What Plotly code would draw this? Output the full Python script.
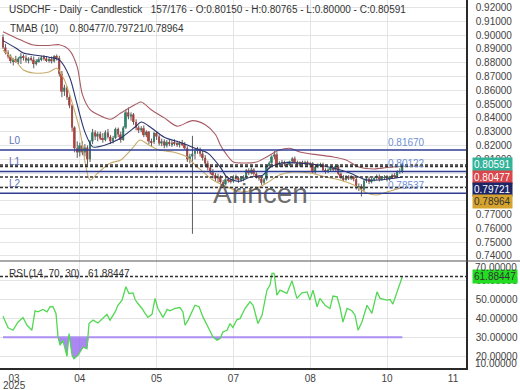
import plotly.graph_objects as go

FONT = "Liberation Sans, Arial, sans-serif"

# ---------------- data ----------------
symbol_title = "USDCHF - Daily - Candlestick"
total_bars = 176

opens = [.8985,.8910,.8872,.8845,.8812,.8825,.8805,.8830,.8845,.8835,
         .8815,.8830,.8822,.8790,.8812,.8825,.8838,.8830,.8818,.8826,
         .8810,.8848,.8835,.8720,.8590,.8620,.8550,.8490,.8330,.8180,
         .8150,.8200,.8150,.8185,.8100,.8230,.8295,.8265,.8285,.8250,
         .8240,.8295,.8262,.8230,.8255,.8320,.8280,.8240,.8330,.8440,
         .8410,.8425,.8370,.8330,.8310,.8325,.8275,.8300,.8230,.8225,
         .8290,.8265,.8215,.8230,.8200,.8225,.8210,.8220,.8215,.8205,
         .8220,.8210,.8180,.8100,.8120,.8140,.8160,.8175,.8140,.8110,
         .8070,.8040,.8005,.7985,.7960,.7975,.7935,.7920,.7955,.7945,
         .7940,.7970,.7960,.7955,.7960,.7970,.8020,.8000,.8025,.7995,
         .7975,.7960,.7930,.7955,.8050,.8075,.8120,.8135,.8060,.8075,
         .8080,.8065,.8060,.8085,.8105,.8080,.8055,.8080,.8070,.8080,
         .8065,.8070,.8005,.8045,.8060,.8065,.8020,.8010,.8025,.8030,
         .8025,.8050,.7995,.7965,.7950,.7975,.7960,.7975,.7955,.7895,
         .7905,.7880,.7945,.7960,.7935,.7955,.7965,.7975,.7955,.7965,
         .7970,.7955,.7975,.7985,.7975,.8010,.80150]
highs = [.9005,.8935,.8890,.8860,.8835,.8850,.8840,.8870,.8860,.8855,
         .8840,.8850,.8845,.8825,.8840,.8850,.8855,.8845,.8840,.8845,
         .8855,.8860,.8850,.8740,.8640,.8630,.8570,.8500,.8340,.8230,
         .8220,.8230,.8210,.8200,.8240,.8320,.8310,.8300,.8300,.8290,
         .8310,.8320,.8275,.8270,.8330,.8330,.8300,.8340,.8460,.8475,
         .8440,.8435,.8390,.8345,.8340,.8345,.8310,.8305,.8250,.8300,
         .8300,.8280,.8250,.8245,.8240,.8240,.8235,.8245,.8235,.8230,
         .8240,.8225,.8195,.8140,.8270,.8175,.8190,.8185,.8160,.8130,
         .8090,.8060,.8030,.8000,.7995,.7985,.7950,.7965,.7970,.7960,
         .7985,.7990,.7975,.7975,.7985,.8030,.8035,.8040,.8035,.8005,
         .7985,.7970,.7965,.8060,.8085,.8130,.8160,.8150,.8085,.8095,
         .8090,.8085,.8090,.8115,.8120,.8090,.8085,.8090,.8090,.8090,
         .8080,.8080,.8055,.8070,.8075,.8075,.8035,.8035,.8040,.8045,
         .8060,.8060,.8005,.7985,.7985,.7985,.7985,.7980,.7965,.7925,
         .7920,.7955,.7975,.7975,.7965,.7975,.7990,.7990,.7975,.7985,
         .7985,.7980,.7995,.8000,.8020,.8035,.80765]
lows = [.8900,.8860,.8830,.8795,.8780,.8800,.8790,.8790,.8815,.8800,
        .8795,.8810,.8760,.8780,.8800,.8810,.8815,.8805,.8800,.8795,
        .8800,.8815,.8700,.8550,.8560,.8530,.8470,.8300,.8150,.8110,
        .8120,.8130,.8120,.8060,.8080,.8210,.8240,.8230,.8240,.8220,
        .8230,.8250,.8210,.8215,.8245,.8260,.8220,.8235,.8320,.8390,
        .8380,.8350,.8310,.8290,.8295,.8260,.8260,.8210,.8190,.8210,
        .8240,.8200,.8195,.8180,.8185,.8195,.8190,.8200,.8190,.8185,
        .8195,.8170,.8080,.8070,.7560,.8100,.8140,.8120,.8090,.8050,
        .8020,.7990,.7960,.7940,.7930,.7920,.7895,.7910,.7930,.7925,
        .7930,.7945,.7930,.7935,.7940,.7960,.7985,.7990,.7980,.7960,
        .7945,.7915,.7920,.7945,.8030,.8060,.8100,.8040,.8045,.8055,
        .8050,.8045,.8050,.8070,.8070,.8045,.8045,.8055,.8060,.8055,
        .8040,.7995,.7995,.8035,.8045,.8010,.7995,.8000,.8015,.8010,
        .8015,.7985,.7955,.7940,.7945,.7950,.7950,.7940,.7880,.7870,
        .7830,.7870,.7930,.7920,.7925,.7940,.7950,.7940,.7945,.7950,
        .7940,.7945,.7960,.7965,.7970,.7995,.80000]
closes = [.8910,.8872,.8845,.8812,.8825,.8805,.8830,.8845,.8835,.8815,
          .8830,.8822,.8790,.8812,.8825,.8838,.8830,.8818,.8826,.8810,
          .8848,.8835,.8720,.8590,.8620,.8550,.8490,.8330,.8180,.8150,
          .8200,.8150,.8185,.8100,.8230,.8295,.8265,.8285,.8250,.8240,
          .8295,.8262,.8230,.8255,.8320,.8280,.8240,.8330,.8440,.8410,
          .8425,.8370,.8330,.8310,.8325,.8275,.8300,.8230,.8225,.8290,
          .8265,.8215,.8230,.8200,.8225,.8210,.8220,.8215,.8205,.8220,
          .8210,.8180,.8100,.8120,.8140,.8160,.8175,.8140,.8110,.8070,
          .8040,.8005,.7985,.7960,.7975,.7935,.7920,.7955,.7945,.7940,
          .7970,.7960,.7955,.7960,.7970,.8020,.8000,.8025,.7995,.7975,
          .7960,.7930,.7955,.8050,.8075,.8120,.8135,.8060,.8075,.8080,
          .8065,.8060,.8085,.8105,.8080,.8055,.8080,.8070,.8080,.8065,
          .8070,.8005,.8045,.8060,.8065,.8020,.8010,.8025,.8030,.8025,
          .8050,.7995,.7965,.7950,.7975,.7960,.7975,.7955,.7895,.7905,
          .7880,.7945,.7960,.7935,.7955,.7965,.7975,.7955,.7965,.7970,
          .7955,.7975,.7985,.7975,.8010,.8015,.80591]

# TMAB(10) bands, read at bar positions
upper_x = [0, 7, 12, 18, 22, 26, 29, 31, 34, 37, 42, 46, 52, 54, 58, 63, 68, 74, 79, 83, 85,
           87.5, 90, 94, 99, 103, 108, 112, 116, 123, 129, 134, 139, 145, 150, 156]
upper_v = [0.9025, 0.8964, 0.8928, 0.8925, 0.8930, 0.8890, 0.8770, 0.8570, 0.8460, 0.8425, 0.8390,
           0.8435, 0.8500, 0.8515, 0.8457, 0.8400, 0.8340, 0.8380, 0.8350, 0.8280, 0.8200,
           0.8130, 0.8080, 0.8073, 0.8080, 0.8117, 0.8167, 0.8180, 0.8153, 0.8132, 0.8117,
           0.8095, 0.8044, 0.8030, 0.8040, 0.80477]
mid_x = [0, 5, 8, 12, 18, 22, 26, 28.5, 32, 35, 37, 43, 46.5, 51.6, 54, 58, 63, 70, 75, 80, 85,
         87.5, 92, 96.5, 101.6, 104, 109, 115, 122.6, 129, 135.5, 142, 147, 156]
mid_v = [0.8960, 0.8906, 0.8870, 0.8856, 0.8840, 0.8820, 0.8696, 0.8530, 0.8297, 0.8190, 0.8190,
         0.8225, 0.8260, 0.8334, 0.8370, 0.8327, 0.8260, 0.8218, 0.8180, 0.8145, 0.8040,
         0.7970, 0.7940, 0.7970, 0.7986, 0.8037, 0.8073, 0.8073, 0.8060, 0.8037, 0.8000,
         0.7950, 0.7950, 0.79721]
lower_x = [0, 5, 8, 12, 18, 21, 24, 27.5, 30, 34, 37, 42, 46, 51, 53.5, 57, 61, 66.4, 71.9, 75.8,
           77.5, 82, 87.5, 92.6, 97.7, 103, 108, 113, 120, 126.6, 131.6, 137, 142, 146, 150, 156]
lower_v = [0.8890, 0.8810, 0.8747, 0.8725, 0.8733, 0.8760, 0.8675, 0.8480, 0.8312, 0.7950, 0.8000,
           0.8073, 0.8095, 0.8190, 0.8240, 0.8203, 0.8167, 0.8153, 0.8117, 0.8044,
           0.8020, 0.7950, 0.7900, 0.7863, 0.7877, 0.7928, 0.7986, 0.8008, 0.8000, 0.7970,
           0.7950, 0.7914, 0.7856, 0.7841, 0.7863, 0.78964]

# RSI(14), read at bar positions
rsi_x = [0, 2, 3.9, 5.9, 7.8, 9.4, 11.3, 12.5, 13.7, 15.6, 17.2, 18.4, 19.5, 20.7, 21.5, 22.3,
         23.4, 25, 25.8, 27, 27.7, 29.3, 31.3, 32.8, 33.6, 35.2, 37.1, 39.1, 40.6, 41.8, 43.8,
         44.9, 46.5, 48, 49.2, 50.8, 51.6, 52.7, 54.3, 55.5, 56.6, 58.2, 59.4, 60.5, 62.5, 64.1,
         65.2, 67.2, 69.1, 70.3, 71.1, 72.3, 73.8, 75, 76.6, 78.1, 80.1, 82, 83.6, 84.8, 85.9,
         87.5, 88.7, 89.8, 91.4, 92.6, 94.5, 96.5, 97.7, 99.6, 101.2, 103.1, 104.3, 105.1, 105.9,
         107, 108.2, 110.9, 112.9, 114.8, 116.8, 118.8, 119.9, 121.1, 122.7, 123.8, 125.8, 127.7,
         128.9, 130.5, 131.6, 132.8, 134.4, 136.3, 137.5, 138.7, 140.2, 142.2, 144.1, 146.1,
         147.3, 150, 151.2, 152.3, 156]
rsi_v = [41, 35, 33.7, 38, 40.4, 36.3, 33.7, 43.9, 43.3, 44.6, 43.3, 46, 46, 42.5, 30.2, 25.8,
         28.4, 20, 32, 20.5, 18.8, 20.5, 24.9, 24, 37.2, 39, 37.5, 40.4, 42, 39, 43.3,
         46.8, 49.5, 56.5, 53, 53.3, 49.8, 47.7, 45.1, 42.5, 40.4, 42, 50.4, 45.1, 40.4, 44.6,
         43.9, 45.1, 45.6, 43.3, 36.3, 39, 43.3, 46.8, 46, 40.7, 35.4, 30.2, 28.4, 29.3, 32.8,
         33.7, 37.2, 35.1, 39.3, 39.8, 45.1, 48.6, 46.8, 37.2, 41.6, 54.7, 57.4, 63.5, 63.5,
         52.1, 54.7, 53, 59.6, 50.4, 53.3, 53.8, 49.5, 54.7, 46, 50.4, 46.8, 45.1,
         51.6, 51.2, 46, 38, 45.1, 43.9, 41.6, 33.7, 38, 46.8, 42.5, 53.8,
         50.4, 49.5, 49.8, 47.4, 61.88447]
rsi_oversold = 30

levels = [0.81670, 0.80122, 0.78537]
level_names = ["L0", "L1", "L2"]

x_tick_vals = [4.3, 30, 60, 90, 120, 150, 175.8]
x_tick_text = ["03", "04", "05", "07", "08", "10", "11"]
first_year = "2025"
x_grid_vals = [30, 60, 90, 120, 150]

# ---------------- styling ----------------
UP, DOWN, WICK = "#2a9f7e", "#e2433f", "#5c5c5c"
C_UPPER, C_MID, C_LOWER = "#a85a64", "#2a3470", "#c8ab6a"
GRID = "#e4e4e4"
AXIS = "#2a2a2a"
MAIN_BOTTOM = 0.2908  # paper fraction of main panel bottom

n = len(closes)
idx = list(range(n))

fig = go.Figure()

# wicks
wx, wy = [], []
for i in idx:
    wx += [i, i, None]
    wy += [lows[i], highs[i], None]
fig.add_trace(go.Scatter(x=wx, y=wy, mode="lines", line=dict(color=WICK, width=1),
                         xaxis="x", yaxis="y", hoverinfo="skip"))

# bodies
up_i = [i for i in idx if closes[i] >= opens[i]]
dn_i = [i for i in idx if closes[i] < opens[i]]
for ids, col in ((up_i, UP), (dn_i, DOWN)):
    fig.add_trace(go.Bar(
        x=ids,
        y=[max(abs(closes[i] - opens[i]), 0.00025) for i in ids],
        base=[min(opens[i], closes[i]) for i in ids],
        width=0.75, marker=dict(color=col, line=dict(width=0)),
        xaxis="x", yaxis="y", hoverinfo="skip"))

# TMAB bands
for bx, bv, col in ((upper_x, upper_v, C_UPPER), (mid_x, mid_v, C_MID), (lower_x, lower_v, C_LOWER)):
    fig.add_trace(go.Scatter(x=bx, y=bv, mode="lines",
                             line=dict(color=col, width=1.1, shape="spline", smoothing=0.8),
                             xaxis="x", yaxis="y", hoverinfo="skip"))

# RSI panel
fig.add_trace(go.Scatter(x=rsi_x, y=[rsi_oversold] * len(rsi_x), mode="lines",
                         line=dict(color="#ad8ff2", width=2), xaxis="x2", yaxis="y2", hoverinfo="skip"))
fig.add_trace(go.Scatter(x=rsi_x, y=[min(v, rsi_oversold) for v in rsi_v], mode="lines",
                         line=dict(width=0), fill="tonexty", fillcolor="rgba(150,105,240,0.8)",
                         xaxis="x2", yaxis="y2", hoverinfo="skip"))
fig.add_trace(go.Scatter(x=rsi_x, y=rsi_v, mode="lines", line=dict(color="#52d852", width=1.3),
                         xaxis="x2", yaxis="y2", hoverinfo="skip"))

shapes = []
# support / resistance levels
for v in levels:
    shapes.append(dict(type="line", xref="x domain", x0=0, x1=1, yref="y", y0=v, y1=v,
                       line=dict(color="#2f3c94", width=1.5)))
# dashed current-value lines
for v in (closes[-1], upper_v[-1], mid_v[-1], lower_v[-1]):
    shapes.append(dict(type="line", xref="x domain", x0=0, x1=1, yref="y", y0=v, y1=v,
                       line=dict(color="#333333", width=1.5, dash="3px,2px")))
shapes.append(dict(type="line", xref="x2 domain", x0=0, x1=1, yref="y2", y0=rsi_v[-1], y1=rsi_v[-1],
                   line=dict(color="#333333", width=1.5, dash="3px,2px")))
# panel separator
shapes.append(dict(type="line", xref="paper", x0=0, x1=520 / 466, yref="paper",
                   y0=MAIN_BOTTOM, y1=MAIN_BOTTOM, line=dict(color="#555555", width=1.2)))

annotations = []
hdr = (f"{symbol_title}\u00a0\u00a0\u00a0{n}/{total_bars} - O:{opens[-1]:.5f} - H:{highs[-1]:.5f}"
       f" - L:{lows[-1]:.5f} - C:{closes[-1]:.5f}")
annotations.append(dict(text=hdr, xref="paper", yref="paper", x=0.016, y=1 - 9 / 368,
                        xanchor="left", yanchor="middle", showarrow=False,
                        font=dict(size=10, color="#333333", family=FONT)))
tm = f"TMAB (10)\u00a0\u00a0\u00a0\u00a0{upper_v[-1]:.5f}/{mid_v[-1]:.5f}/{lower_v[-1]:.5f}"
annotations.append(dict(text=tm, xref="paper", yref="paper", x=0.018, y=1 - 29 / 368,
                        xanchor="left", yanchor="middle", showarrow=False,
                        font=dict(size=10, color="#333333", family=FONT)))
annotations.append(dict(text=f"RSI (14, 70, 30)\u00a0\u00a0\u00a0{rsi_v[-1]:.5f}", xref="paper", yref="paper",
                        x=0.016, y=1 - 273 / 368, xanchor="left", yanchor="middle", showarrow=False,
                        font=dict(size=10, color="#333333", family=FONT)))
# level labels
for name, v in zip(level_names, levels):
    annotations.append(dict(text=name, xref="paper", yref="y", x=0.014, y=v, xanchor="left",
                            yanchor="bottom", yshift=2, showarrow=False,
                            font=dict(size=10, color="#6272b8", family=FONT)))
    annotations.append(dict(text=f"{v:.5f}", xref="paper", yref="y", x=427 / 466, y=v, xanchor="right",
                            yanchor="bottom", yshift=0, showarrow=False,
                            font=dict(size=10, color="#6f8fd6", family=FONT)))
# watermark
annotations.append(dict(text="Arincen", xref="paper", yref="paper", x=260 / 466, y=1 - 193 / 368,
                        xanchor="center", yanchor="middle", showarrow=False,
                        font=dict(size=28, color="rgba(70,70,70,0.8)", family=FONT)))
# value boxes on the price axis
boxes = [(closes[-1], "#33b39a", "white", 0), (upper_v[-1], "#d9464b", "white", -11),
         (mid_v[-1], "#1c2566", "white", -13), (lower_v[-1], "#d6a32e", "#333333", -14.5)]
for v, bg, fc, sh in boxes:
    annotations.append(dict(text=f"{v:.5f}", xref="paper", yref="y", x=1, y=v, xanchor="left",
                            yanchor="middle", xshift=6, yshift=sh, showarrow=False, bgcolor=bg,
                            borderpad=1, font=dict(size=10, color=fc, family=FONT)))
annotations.append(dict(text=f"{rsi_v[-1]:.5f}", xref="paper", yref="y2", x=1, y=rsi_v[-1],
                        xanchor="left", yanchor="middle", xshift=6, showarrow=False, bgcolor="#22dd22",
                        borderpad=1, font=dict(size=10, color="#333333", family=FONT)))
# clamped edge labels of the RSI axis
annotations.append(dict(text="70.00000", xref="paper", yref="paper", x=1, y=MAIN_BOTTOM,
                        xanchor="left", yanchor="top", xshift=7, yshift=1, showarrow=False,
                        font=dict(size=10, color="#444444", family=FONT)))
annotations.append(dict(text="10.00000", xref="paper", yref="paper", x=1, y=0,
                        xanchor="left", yanchor="bottom", xshift=7, yshift=-3, showarrow=False,
                        font=dict(size=10, color="#444444", family=FONT)))
# year under the first month label
annotations.append(dict(text=first_year, xref="x2", yref="paper", x=x_tick_vals[0], y=0,
                        xanchor="center", yanchor="middle", yshift=-17, showarrow=False,
                        font=dict(size=10, color="#444444", family=FONT)))

x_range = [-1.17, 180.86]
common_x = dict(range=x_range, showgrid=False, zeroline=False, automargin=False,
                minor=dict(tickvals=x_grid_vals, showgrid=True, gridcolor=GRID, gridwidth=1, ticks=""))

fig.update_layout(
    width=520, height=390,
    margin=dict(l=0, r=54, t=0, b=22, autoexpand=False),
    paper_bgcolor="white", plot_bgcolor="white",
    showlegend=False, barmode="overlay", hovermode=False,
    font=dict(family=FONT, size=10, color="#444444"),
    xaxis=dict(**common_x, anchor="y", showticklabels=False, ticks=""),
    xaxis2=dict(**common_x, anchor="y2", matches="x", tickvals=x_tick_vals, ticktext=x_tick_text,
                ticks="", showline=True, linecolor=AXIS, linewidth=1.5,
                tickfont=dict(size=10, color="#444444", family=FONT)),
    yaxis=dict(domain=[MAIN_BOTTOM, 1], anchor="x", side="right", range=[0.7363, 0.92543],
               dtick=0.01, tick0=0.74, tickformat=".5f", showgrid=True, gridcolor=GRID, zeroline=False,
               showline=True, linecolor=AXIS, linewidth=1.5, ticks="", ticklabelstandoff=6,
               automargin=False, tickfont=dict(size=10, color="#444444", family=FONT)),
    yaxis2=dict(domain=[0, MAIN_BOTTOM], anchor="x2", side="right", range=[13.9, 70],
                tickvals=[20, 30, 40, 50, 60], tickformat=".5f", showgrid=True, gridcolor=GRID,
                zeroline=False, showline=True, linecolor=AXIS, linewidth=1.5, ticks="",
                ticklabelstandoff=6, automargin=False,
                tickfont=dict(size=10, color="#444444", family=FONT)),
    shapes=shapes,
    annotations=annotations,
)

fig.write_html("out.html", config={"displayModeBar": False},
               post_script="document.body.style.margin='0';document.body.style.padding='0';")
